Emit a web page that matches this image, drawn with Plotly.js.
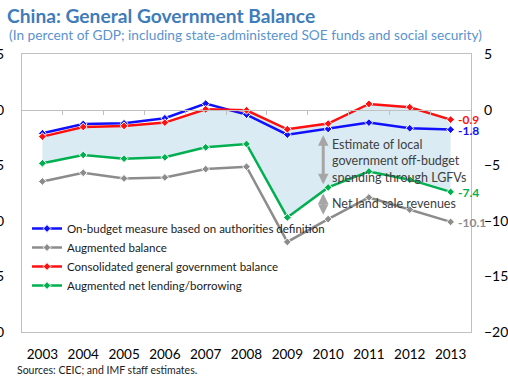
<!DOCTYPE html>
<html><head><meta charset="utf-8">
<script src="https://cdn.plot.ly/plotly-3.0.1.min.js"></script>
<style>html,body{margin:0;padding:0;background:#fff;overflow:hidden}#chart{width:508px;height:381px}</style>
</head><body><div id="chart"></div>
<script>
const years = [2003,2004,2005,2006,2007,2008,2009,2010,2011,2012,2013];
const onBudget = [-2.13,-1.29,-1.23,-0.78,0.54,-0.45,-2.25,-1.74,-1.17,-1.68,-1.8];
const augmentedBalance = [-6.46,-5.68,-6.19,-6.10,-5.35,-5.14,-11.9,-9.85,-7.9,-9.0,-10.1];
const consolidated = [-2.43,-1.56,-1.47,-1.17,0.03,-0.06,-1.77,-1.26,0.51,0.21,-0.9];
const netLending = [-4.83,-4.08,-4.41,-4.29,-3.39,-3.09,-9.7,-7.0,-5.56,-6.3,-7.4];
const yTicks = [5,0,-5,-10,-15,-20];
const seriesNames = ["On-budget measure based on authorities definition","Augmented balance","Consolidated general government balance","Augmented net lending/borrowing"];
const seriesColors = ["#1010ff","#8c8c8c","#ff1010","#00b050"];
const seriesData = [onBudget, augmentedBalance, consolidated, netLending];

const FONT = "Lato, 'Open Sans', sans-serif";
const traces = [];
traces.push({x:years, y:netLending, mode:'lines', line:{width:0}, showlegend:false, hoverinfo:'skip'});
traces.push({x:years, y:consolidated, mode:'lines', line:{width:0}, fill:'tonexty', fillcolor:'#daebf3', showlegend:false, hoverinfo:'skip'});
seriesData.forEach((d,i)=>{
  traces.push({x:years, y:d, name:seriesNames[i], mode:'lines+markers',
    line:{color:seriesColors[i], width:2.5},
    marker:{symbol:'diamond', size:6, color:seriesColors[i], line:{color:'#ffffff', width:1}}});
});
traces.push({x:[years[0]], y:[null], xaxis:'x2', yaxis:'y', showlegend:false, hoverinfo:'skip'});
traces.push({x:[years[0]], y:[null], xaxis:'x', yaxis:'y2', showlegend:false, hoverinfo:'skip'});

const xRange = [years[0]-0.5, years[years.length-1]+0.5];
const boundaries = years.slice(0,-1).map(y=>y+0.5);
const last = years.length-1;

const ann = [];
// subtitle
ann.push({xref:'paper', yref:'paper', x:-15/449, y:1+20/278, xanchor:'left', yanchor:'middle', showarrow:false,
  text:'(In percent of GDP; including state-administered SOE funds and social security)', font:{family:FONT, size:13.7, color:'#5a93cf'}});
// sources
ann.push({xref:'paper', yref:'paper', x:-7/449, y:-38/278, xanchor:'left', yanchor:'middle', showarrow:false,
  text:'Sources: CEIC; and IMF staff estimates.', font:{family:FONT, size:10.5, color:'#222'}});
// end labels
seriesData.forEach((d,i)=>{
  ann.push({x:years[last], y:d[last], xanchor:'left', yanchor:'middle', xshift:5, yshift:(i===2?0:-1), showarrow:false,
    text:'<b>'+d[last].toFixed(1)+'</b>', font:{family:FONT, size:12, color:seriesColors[i]}});
});
// double arrows
ann.push({x:2009.88, y:-2.3, ax:2009.88, ay:-6.85, axref:'x', ayref:'y', xref:'x', yref:'y', text:'', showarrow:true,
  arrowhead:2, startarrowhead:2, arrowside:'end+start', arrowsize:0.7, startarrowsize:0.7, arrowwidth:3, arrowcolor:'#a6a6a6'});
ann.push({x:2009.88, y:-7.55, ax:2009.88, ay:-9.6, axref:'x', ayref:'y', xref:'x', yref:'y', text:'', showarrow:true,
  arrowhead:2, startarrowhead:2, arrowside:'end+start', arrowsize:0.7, startarrowsize:0.7, arrowwidth:3, arrowcolor:'#a6a6a6'});
ann.push({x:2010.05, y:-4.6, xanchor:'left', yanchor:'middle', align:'left', showarrow:false,
  text:'Estimate of local<br>government off-budget<br>spending through LGFVs', font:{family:FONT, size:12.5, color:'#404040'}});
ann.push({x:2010.05, y:-8.4, xanchor:'left', yanchor:'middle', align:'left', showarrow:false,
  text:'Net land sale revenues', font:{family:FONT, size:12.5, color:'#404040'}});

const layout = {
  width:508, height:381,
  margin:{l:22, r:37, t:54, b:49, pad:0},
  paper_bgcolor:'#ffffff', plot_bgcolor:'#ffffff',
  font:{family:FONT, size:13, color:'#000'},
  title:{text:'<b>China: General Government Balance</b>', xref:'container', yref:'container', x:7/508, xanchor:'left', y:1-16/381, yanchor:'middle',
    font:{family:FONT, size:19.2, color:'#3f7cba'}},
  showlegend:true,
  legend:{x:5/449, y:(332-214)/278, xanchor:'left', yanchor:'top', traceorder:'normal', bgcolor:'rgba(0,0,0,0)', font:{family:FONT, size:11.5, color:'#1a1a1a'}, tracegroupgap:0},
  xaxis:{range:xRange, tickvals:years, ticktext:years.map(String), showline:true, mirror:true, linecolor:'#c0c0c0', linewidth:1,
    ticks:'', showgrid:false, zeroline:false, ticklabelstandoff:10, tickfont:{family:FONT, size:13.5, color:'#000'}, fixedrange:true},
  xaxis2:{overlaying:'x', anchor:'free', position:0.8, range:xRange, side:'bottom', showline:true, linecolor:'#c0c0c0', linewidth:1,
    ticks:'outside', ticklen:4, tickcolor:'#c0c0c0', tickvals:boundaries, showticklabels:false, showgrid:false, zeroline:false},
  yaxis:{range:[-20,5], tickvals:yTicks, showline:true, mirror:true, linecolor:'#c0c0c0', linewidth:1, ticks:'', showgrid:false, zeroline:false,
    ticklabelstandoff:14, tickfont:{family:FONT, size:14, color:'#000'}},
  yaxis2:{overlaying:'y', side:'right', range:[-20,5], tickvals:yTicks, showline:false, ticks:'', showgrid:false, zeroline:false,
    ticklabelstandoff:12, tickfont:{family:FONT, size:14, color:'#000'}},
  annotations:ann
};
Plotly.newPlot('chart', traces, layout, {displayModeBar:false, staticPlot:true});
</script></body></html>
